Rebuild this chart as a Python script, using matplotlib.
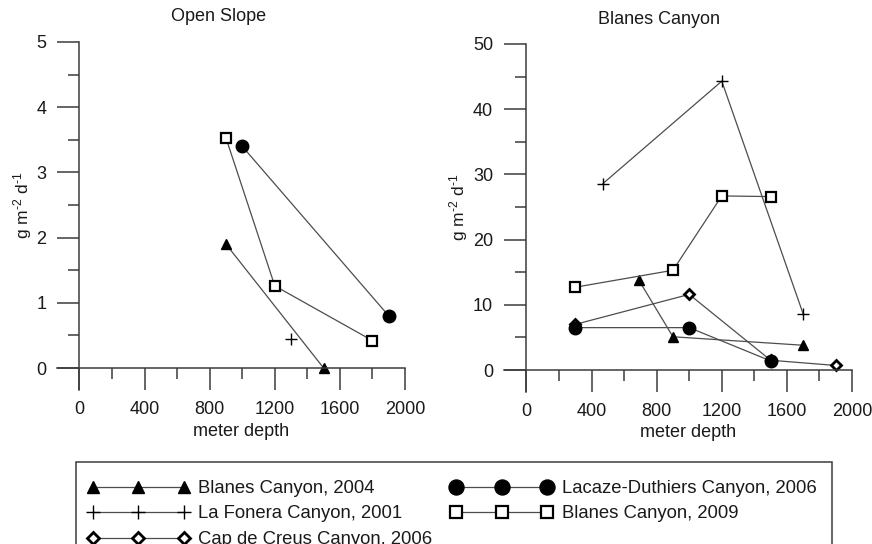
import matplotlib
matplotlib.use("Agg")
from matplotlib import pyplot as plt
from matplotlib.patches import Rectangle
from matplotlib.ticker import MultipleLocator

plt.rcParams['font.family'] = ['Liberation Sans', 'DejaVu Sans']
plt.rcParams['mathtext.fontset'] = 'custom'
plt.rcParams['mathtext.rm'] = 'Liberation Sans'
plt.rcParams['mathtext.default'] = 'regular'

# Open Slope stations (depth in m, flux in g m-2 d-1)
os_b04_depth = [900, 1500]
os_b04_flux = [1.9, 0.0]
os_fon_depth = [1300]
os_fon_flux = [0.44]
os_laz_depth = [1000, 1900]
os_laz_flux = [3.4, 0.8]
os_b09_depth = [900, 1200, 1800]
os_b09_flux = [3.53, 1.26, 0.42]

# Blanes Canyon stations
bc_b04_depth = [690, 900, 1700]
bc_b04_flux = [13.8, 5.1, 3.8]
bc_fon_depth = [470, 1200, 1700]
bc_fon_flux = [28.6, 44.3, 8.6]
bc_cdc_depth = [300, 1000, 1500, 1900]
bc_cdc_flux = [7.0, 11.6, 1.5, 0.7]
bc_laz_depth = [300, 1000, 1500]
bc_laz_flux = [6.5, 6.5, 1.4]
bc_b09_depth = [300, 900, 1200, 1500]
bc_b09_flux = [12.7, 15.3, 26.7, 26.6]

labels = ["Blanes Canyon, 2004", "La Fonera Canyon, 2001",
          "Cap de Creus Canyon, 2006", "Lacaze-Duthiers Canyon, 2006",
          "Blanes Canyon, 2009"]

line_col = '#4d4d4d'
axis_col = '#3c3c3c'
text_col = '#1a1a1a'

styles = {
    'b04': dict(marker='^', ms=7.5, mfc='black', mec='black'),
    'fon': dict(marker='+', ms=8, mec='black', mew=1.0),
    'cdc': dict(marker='D', ms=5, mfc='white', mec='black', mew=2.0),
    'laz': dict(marker='o', ms=9, mfc='black', mec='black'),
    'b09': dict(marker='s', ms=7.5, mfc='white', mec='black', mew=1.6),
}


def series(ax, x, y, key, label=None):
    return ax.plot(x, y, color=line_col, lw=0.9, label=label, **styles[key])[0]


def style_axes(ax, ylo, ytop, ymaj, ymin):
    ax.set_xlim(-138, 2000)
    ax.set_ylim(ylo, ytop)
    for s in ['top', 'right']:
        ax.spines[s].set_visible(False)
    ax.spines['left'].set_position(('data', 0))
    ax.spines['bottom'].set_position(('data', 0))
    for s in ['left', 'bottom']:
        ax.spines[s].set_color(axis_col)
        ax.spines[s].set_linewidth(1.1)
    ax.xaxis.set_major_locator(MultipleLocator(400))
    ax.xaxis.set_minor_locator(MultipleLocator(200))
    ax.yaxis.set_major_locator(MultipleLocator(ymaj))
    ax.yaxis.set_minor_locator(MultipleLocator(ymin))
    ax.tick_params(which='major', length=16, width=1.1, color=axis_col,
                   labelsize=13, labelcolor=text_col, pad=8)
    ax.tick_params(which='minor', length=8, width=1.1, color=axis_col)
    ax.patch.set_visible(False)


fig = plt.figure(figsize=(8.72, 5.44), dpi=100)
ax1 = fig.add_axes([57 / 872, 154 / 544, 348 / 872, 348 / 544])
ax2 = fig.add_axes([504 / 872, 152 / 544, 348 / 872, 348 / 544])

# left panel
series(ax1, os_b04_depth, os_b04_flux, 'b04')
series(ax1, os_fon_depth, os_fon_flux, 'fon')
series(ax1, os_laz_depth, os_laz_flux, 'laz')
series(ax1, os_b09_depth, os_b09_flux, 'b09')
style_axes(ax1, -0.337, 5, 1, 0.5)

# right panel
handles = [
    series(ax2, bc_b04_depth, bc_b04_flux, 'b04', labels[0]),
    series(ax2, bc_fon_depth, bc_fon_flux, 'fon', labels[1]),
    series(ax2, bc_cdc_depth, bc_cdc_flux, 'cdc', labels[2]),
    series(ax2, bc_laz_depth, bc_laz_flux, 'laz', labels[3]),
    series(ax2, bc_b09_depth, bc_b09_flux, 'b09', labels[4]),
]
style_axes(ax2, -3.37, 50, 10, 5)

ylab = r'g m$^{\text{-}2}$ d$^{\text{-}1}$'
ax1.text(0.463, 1.072, "Open Slope", transform=ax1.transAxes, ha='center',
         va='center', fontsize=13, color=text_col)
ax1.text(0.529, -0.118, "meter depth", transform=ax1.transAxes, ha='center',
         va='center', fontsize=13, color=text_col)
ax1.text(-0.10, 0.53, ylab, transform=ax1.transAxes, ha='center',
         va='center', rotation=90, fontsize=12.5, color=text_col)

ax2.text(0.445, 1.069, "Blanes Canyon", transform=ax2.transAxes, ha='center',
         va='center', fontsize=13, color=text_col)
ax2.text(0.529, -0.115, "meter depth", transform=ax2.transAxes, ha='center',
         va='center', fontsize=13, color=text_col)
ax2.text(-0.132, 0.53, ylab, transform=ax2.transAxes, ha='center',
         va='center', rotation=90, fontsize=12.5, color=text_col)

# legend box runs off the bottom edge, so draw the frame on its own
fig.add_artist(Rectangle((76 / 872, -0.05), (832 - 76) / 872,
                         (544 - 462) / 544 + 0.05, transform=fig.transFigure,
                         fill=False, ec=axis_col, lw=1.1))

leg = fig.legend(handles, labels, loc='upper left',
                 bbox_to_anchor=(87.5 / 872, 1 - 480 / 544), ncol=2,
                 numpoints=3, handlelength=5.5, handletextpad=0.5,
                 columnspacing=1.0, borderpad=0, labelspacing=0.46,
                 borderaxespad=0, frameon=False, fontsize=13.3,
                 markerscale=1.2)
for t in leg.get_texts():
    t.set_color(text_col)

fig.savefig("out.png", dpi=100)
